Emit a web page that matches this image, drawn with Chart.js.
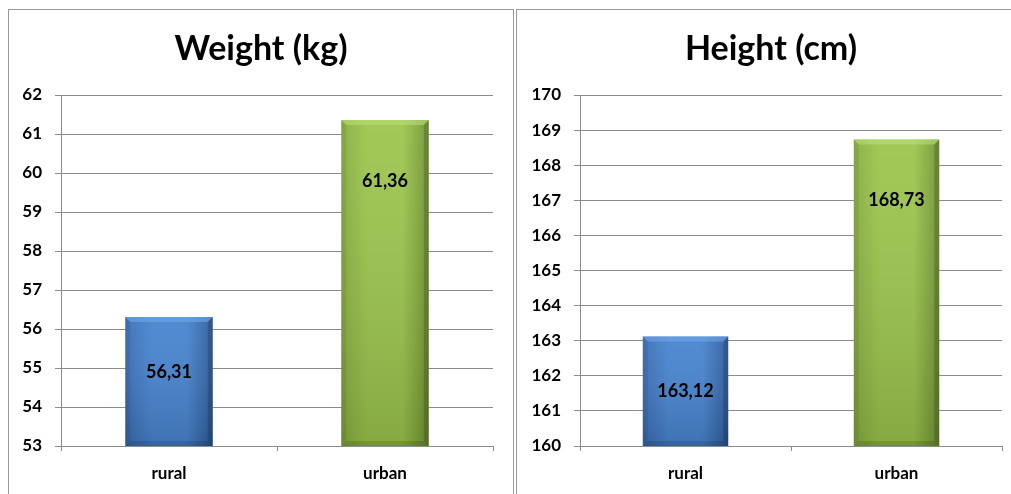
<!DOCTYPE html>
<html>
<head>
<meta charset="utf-8">
<script src="https://cdn.jsdelivr.net/npm/chart.js@4.4.1/dist/chart.umd.min.js"></script>
<style>
  html, body { margin: 0; padding: 0; background: #ffffff; width: 1011px; height: 494px; overflow: hidden; position: relative; }
  .panel { position: absolute; box-sizing: border-box; border-color: #9a9a9a; border-style: solid; }
  #p1 { left: 8px; top: 9px; width: 506px; height: 500px; border-width: 1px 1px 0 1px; }
  #p2 { left: 516px; top: 9px; width: 510px; height: 500px; border-width: 1px 0 0 1px; }
  canvas { position: absolute; }
  #c1 { left: 9px; top: 10px; }
  #c2 { left: 517px; top: 10px; }
</style>
</head>
<body>
<div class="panel" id="p1"></div>
<div class="panel" id="p2"></div>
<canvas id="c1" width="504" height="484" style="width:504px;height:484px"></canvas>
<canvas id="c2" width="508" height="484" style="width:508px;height:484px"></canvas>
<script>
const categories = ["rural", "urban"];
const weightValues = [56.31, 61.36];
const heightValues = [163.12, 168.73];
const weightTitle = "Weight (kg)";
const heightTitle = "Height (cm)";
const weightTicks = { min: 53, max: 62, step: 1 };
const heightTicks = { min: 160, max: 170, step: 1 };

const FONT = "Lato, 'Open Sans', sans-serif";
const palettes = [
  { l: "#3a6db4", m: "#4784cf", r: "#2e5c9c", top: "#6fa6e6" },
  { l: "#87ad3f", m: "#9cc54d", r: "#719433", top: "#b9dd78" }
];

function fmt(v) { return v.toFixed(2).replace(".", ","); }

function barFill(ctx) {
  const chart = ctx.chart;
  const area = chart.chartArea;
  const pal = palettes[ctx.dataIndex];
  if (!area) return pal.m;
  const xs = chart.scales.x;
  const cx = xs.getPixelForValue(ctx.dataIndex);
  const w = (area.right - area.left) / categories.length * 0.405;
  const g = chart.ctx.createLinearGradient(cx - w / 2, 0, cx + w / 2, 0);
  g.addColorStop(0, pal.l);
  g.addColorStop(0.3, pal.m);
  g.addColorStop(0.7, pal.m);
  g.addColorStop(1, pal.r);
  return g;
}

const bevelPlugin = {
  id: "bevel",
  afterDatasetsDraw(chart) {
    const c = chart.ctx;
    const area = chart.chartArea;
    const meta = chart.getDatasetMeta(0);
    meta.data.forEach((bar, i) => {
      const pal = palettes[i];
      const left = bar.x - bar.width / 2, right = bar.x + bar.width / 2;
      const top = bar.y, bottom = Math.min(bar.base, area.bottom);
      c.save();
      c.beginPath();
      c.rect(area.left, area.top - 2, area.right - area.left, area.bottom - area.top + 2);
      c.clip();
      const vg = c.createLinearGradient(0, top, 0, bottom);
      vg.addColorStop(0, "rgba(255,255,255,0.06)");
      vg.addColorStop(1, "rgba(0,0,0,0.14)");
      c.fillStyle = vg;
      c.fillRect(left, top, right - left, bottom - top);
      const b = 5;
      c.beginPath();
      c.moveTo(left, top);
      c.lineTo(right, top);
      c.lineTo(right - b, top + b);
      c.lineTo(left + b, top + b);
      c.closePath();
      c.fillStyle = pal.top;
      c.globalAlpha = 0.6;
      c.fill();
      c.fillStyle = "#000";
      c.globalAlpha = 0.16;
      c.beginPath();
      c.moveTo(right, top);
      c.lineTo(right, bottom);
      c.lineTo(right - b, bottom - b);
      c.lineTo(right - b, top + b);
      c.closePath();
      c.fill();
      c.globalAlpha = 0.07;
      c.beginPath();
      c.moveTo(left, top);
      c.lineTo(left, bottom);
      c.lineTo(left + b, bottom - b);
      c.lineTo(left + b, top + b);
      c.closePath();
      c.fill();
      c.globalAlpha = 0.12;
      c.beginPath();
      c.moveTo(left, bottom);
      c.lineTo(right, bottom);
      c.lineTo(right - b, bottom - b);
      c.lineTo(left + b, bottom - b);
      c.closePath();
      c.fill();
      c.restore();
      c.save();
      c.font = "bold 18px " + FONT;
      c.fillStyle = "#000";
      c.textAlign = "center";
      c.textBaseline = "middle";
      const v = chart.data.datasets[0].data[i];
      const h = bottom - top;
      c.fillText(fmt(v), bar.x, top + 52 + 0.028 * h);
      c.restore();
    });
  }
};

function makeChart(id, title, values, ticks, yWidth, rightWidth) {
  return new Chart(document.getElementById(id), {
    type: "bar",
    data: {
      labels: categories,
      datasets: [{
        data: values,
        backgroundColor: barFill,
        borderWidth: 0,
        barPercentage: 0.405,
        categoryPercentage: 1.0
      }]
    },
    options: {
      responsive: false,
      animation: false,
      devicePixelRatio: 1,
      layout: { padding: 0 },
      plugins: {
        legend: { display: false },
        tooltip: { enabled: false },
        title: {
          display: true,
          text: title,
          color: "#000",
          font: { family: FONT, size: 34, weight: "bold", lineHeight: 1.2 },
          padding: { top: 19, bottom: 25.2 }
        }
      },
      scales: {
        x: {
          grid: { display: true, drawOnChartArea: false, offset: true, tickLength: 5, color: "#8c8c8c", lineWidth: 1 },
          border: { display: true, color: "#8c8c8c", width: 1 },
          ticks: { color: "#000", font: { family: FONT, size: 17, weight: "bold" }, padding: 12 },
          afterFit(s) { s.height = 48; }
        },
        y: {
          min: ticks.min,
          max: ticks.max,
          grid: { color: "#8c8c8c", lineWidth: 1, tickLength: 6, drawTicks: true },
          border: { display: true, color: "#8c8c8c", width: 1 },
          ticks: { stepSize: ticks.step, color: "#000", font: { family: FONT, size: 17, weight: "bold" }, padding: 13 },
          afterFit(s) { s.width = yWidth; }
        },
        spacer: {
          type: "linear",
          position: "right",
          display: true,
          grid: { display: false, drawTicks: false },
          border: { display: false },
          ticks: { display: false },
          afterFit(s) { s.width = rightWidth; }
        }
      }
    },
    plugins: [bevelPlugin]
  });
}

makeChart("c1", weightTitle, weightValues, weightTicks, 52, 20);
makeChart("c2", heightTitle, heightValues, heightTicks, 63, 23);
</script>
</body>
</html>
